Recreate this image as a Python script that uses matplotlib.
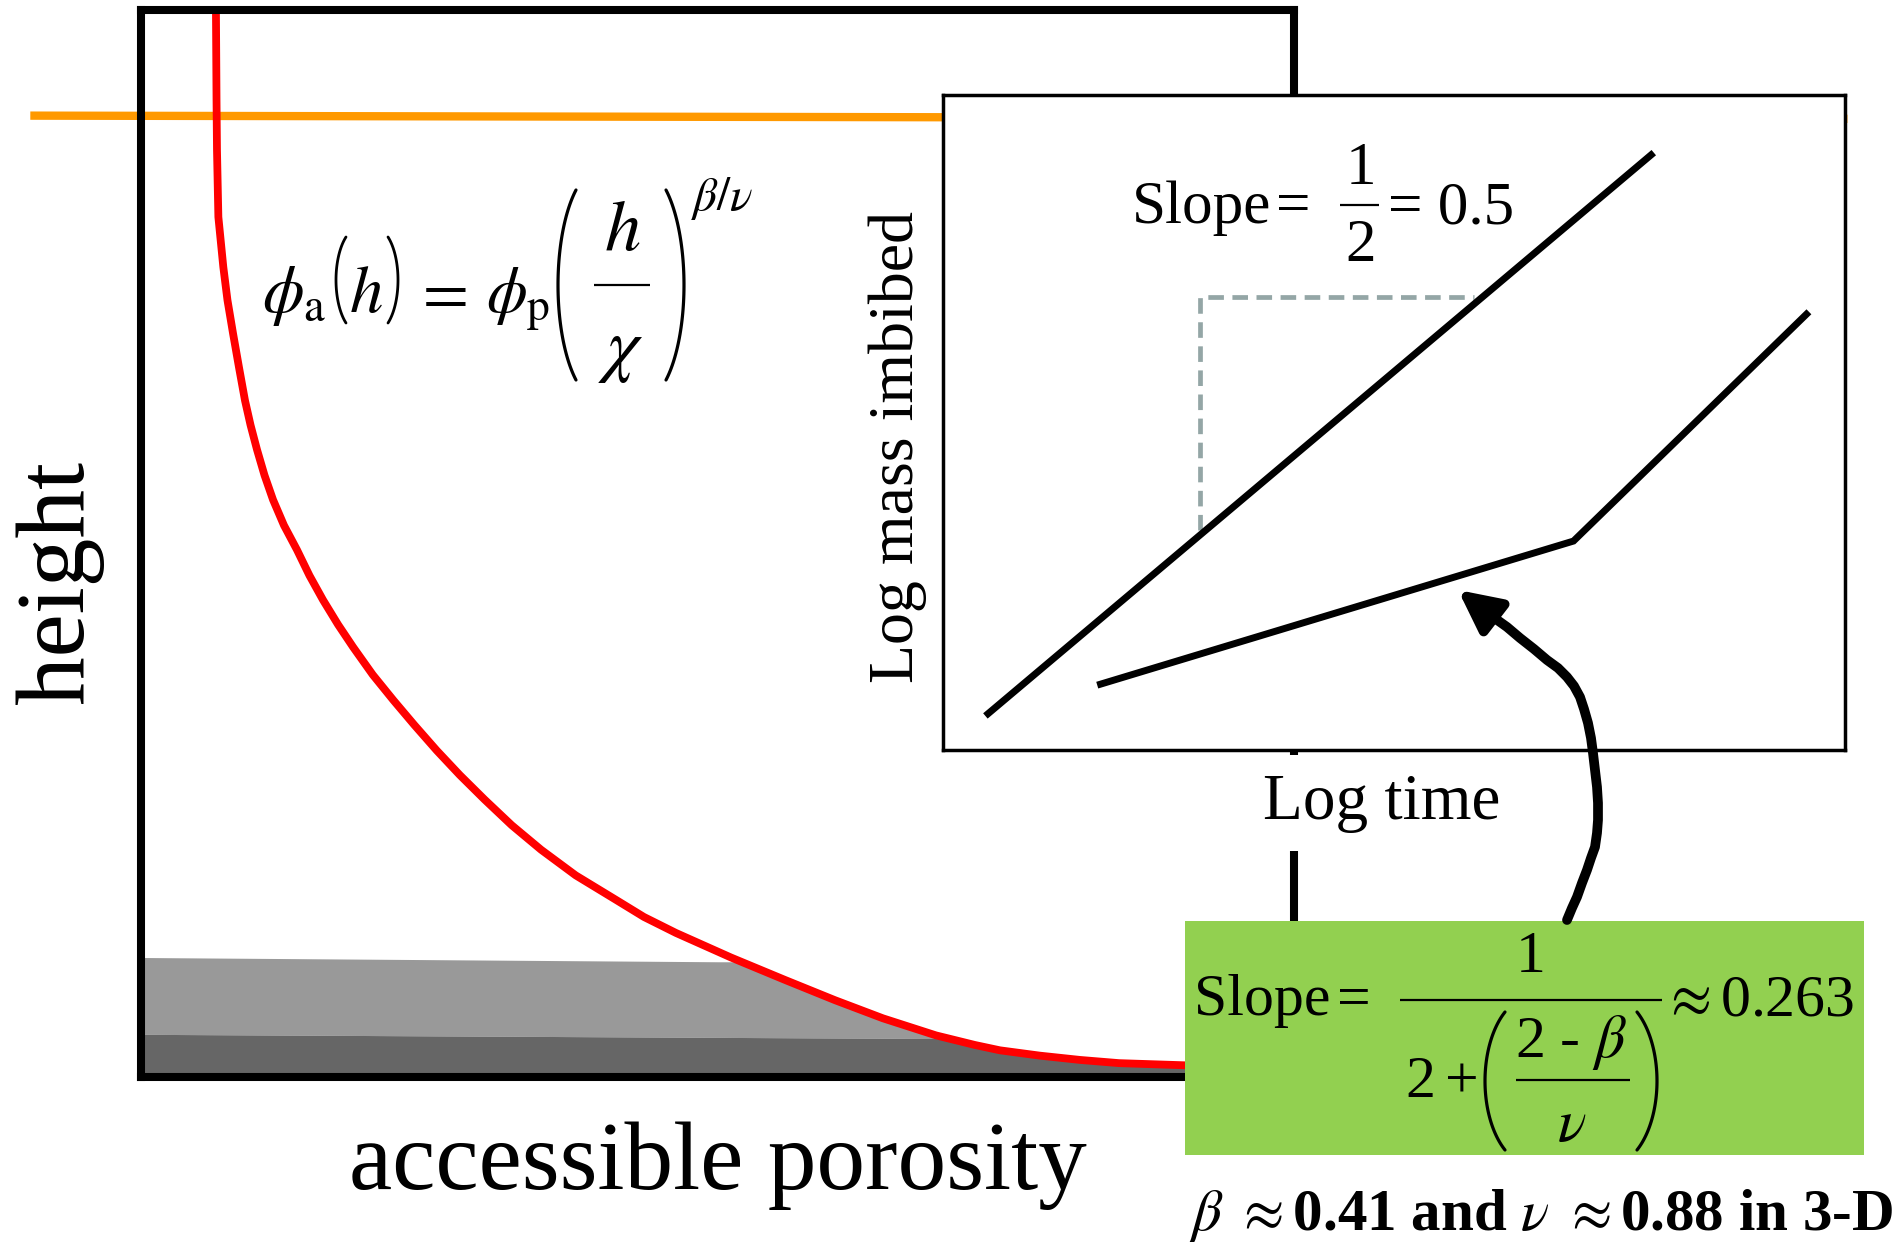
import numpy as np
import matplotlib
matplotlib.use("Agg")
import matplotlib.pyplot as plt
from matplotlib.patches import Rectangle, FancyArrowPatch
from matplotlib.path import Path

plt.rcParams['font.family'] = ['Liberation Serif', 'DejaVu Serif']
plt.rcParams['mathtext.fontset'] = 'stix'

# accessible porosity (fraction of box width) against height (fraction of box height)
porosity = [0.0650, 0.0655, 0.0659, 0.0671, 0.0714, 0.0750, 0.0798, 0.0850, 0.0902,
            0.0950, 0.1006, 0.1071, 0.1145, 0.1240, 0.1353, 0.1461, 0.1579, 0.1709,
            0.1839, 0.2010, 0.2190, 0.2370, 0.2565, 0.2765, 0.2980, 0.3215, 0.3470,
            0.3770, 0.4120, 0.4362, 0.4640, 0.5117, 0.5585, 0.6019, 0.6435, 0.6895,
            0.7233, 0.7450, 0.7797, 0.8144, 0.8482, 0.9046, 0.9300]
height = [1.000, 0.916, 0.869, 0.806, 0.759, 0.728, 0.697, 0.665, 0.634,
          0.611, 0.588, 0.564, 0.541, 0.517, 0.494, 0.470, 0.447, 0.424,
          0.403, 0.377, 0.353, 0.330, 0.306, 0.283, 0.260, 0.236, 0.213,
          0.189, 0.166, 0.150, 0.135, 0.112, 0.091, 0.072, 0.055, 0.039,
          0.030, 0.025, 0.020, 0.016, 0.013, 0.011, 0.010]

# saturated layers at the base of the column (top edge height at left and right end)
band_light_top = [0.112, 0.108]
band_dark_top = [0.040, 0.036]

# injection height line
inlet_x = [-0.096, 1.48]
inlet_h = [0.901, 0.898]

# inset: log mass imbibed vs log time
fast_t = [0.047, 0.788]
fast_m = [0.052, 0.912]
slow_t = [0.171, 0.699, 0.960]
slow_m = [0.099, 0.319, 0.669]
tri_t = [0.285, 0.285, 0.589]
tri_m = [0.336, 0.691, 0.691]

# curved arrow from the slope box to the slow branch (layout pixels)
arrow_x = [1567, 1572, 1577, 1582, 1587, 1591, 1595, 1597, 1598, 1598, 1597, 1595, 1593,
           1591, 1588, 1584, 1580, 1574, 1567, 1558, 1547, 1534, 1520, 1507, 1493, 1458]
arrow_y = [920, 908, 897, 883, 870, 858, 847, 833, 820, 803, 787, 770, 753,
           738, 723, 709, 697, 686, 677, 668, 660, 649, 638, 627, 617, 590]

W, H = 1893, 1243
fig = plt.figure(figsize=(W / 100, H / 100), dpi=100)


def px_rect(l, t, r, b):
    return [l / W, 1 - b / H, (r - l) / W, (b - t) / H]


# main column
ax = fig.add_axes(px_rect(141, 10, 1294, 1077))
ax.set_xlim(0, 1)
ax.set_ylim(0, 1)
ax.set_xticks([])
ax.set_yticks([])
for s in ax.spines.values():
    s.set_linewidth(5.8)
    s.set_capstyle('projecting')

# grey layers fill the part of each band lying left of (below) the profile
xx = np.linspace(0, 1, 600)
h_curve = np.interp(xx, porosity, height)
top_l = np.interp(xx, [0, 0.5], band_light_top)
top_d = np.interp(xx, [0, 0.7], band_dark_top)
ax.fill_between(xx, np.minimum(top_d, h_curve), np.minimum(top_l, h_curve),
                where=h_curve > top_d, color='#999999', lw=0, zorder=1)
ax.fill_between(xx, 0, np.minimum(top_d, h_curve), color='#666666', lw=0, zorder=1)

ax.plot(inlet_x, inlet_h, color='#ff9900', lw=6, clip_on=False, zorder=1.5,
        solid_capstyle='butt')
ax.plot(porosity, height, color='#ff0000', lw=5.6, zorder=2,
        solid_joinstyle='round')

# inset
axi = fig.add_axes(px_rect(943, 95, 1845, 750))
axi.set_xlim(0, 1)
axi.set_ylim(0, 1)
axi.set_xticks([])
axi.set_yticks([])
for s in axi.spines.values():
    s.set_linewidth(2.5)
axi.plot(tri_t, tri_m, color='#94a6a6', lw=3.4, linestyle=(0, (3.3, 1.8)),
         dash_capstyle='butt')
axi.plot(fast_t, fast_m, color='black', lw=5, solid_capstyle='butt')
axi.plot(slow_t, slow_m, color='black', lw=5, solid_capstyle='butt',
         solid_joinstyle='miter')

# annotation layer in layout pixels
ov = fig.add_axes([0, 0, 1, 1])
ov.set_xlim(0, W)
ov.set_ylim(H, 0)
ov.axis('off')
ov.patch.set_visible(False)


def put(x, y, s, size, ha='center', va='baseline', **kw):
    ov.text(x, y, s, fontsize=size, ha=ha, va=va, **kw)


def bar(x0, x1, y, z=4):
    ov.plot([x0, x1], [y, y], color='black', lw=1.6, solid_capstyle='butt', zorder=z)


def paren(x_out, y0, y1, sag, left=True, lw=2.3, z=4):
    # tall bracket drawn as a slice of an ellipse
    th = np.radians(55)
    a = sag / (1 - np.cos(th))
    b = (y1 - y0) / 2 / np.sin(th)
    t = np.linspace(-th, th, 60)
    sign = 1 if left else -1
    cx = x_out + sign * a
    ov.plot(cx - sign * a * np.cos(t), (y0 + y1) / 2 + b * np.sin(t),
            color='black', lw=lw, solid_capstyle='round', zorder=z)


ov.text(60, 582, 'height', rotation=90, fontsize=70, ha='center', va='center')
put(718, 1189, 'accessible porosity', 70)

# porosity law
put(262, 312, r"$\phi_{\mathrm{a}}$", 48, ha='left')
paren(336, 237, 323, 10, left=True, lw=2)
put(366, 312, r"$h$", 48)
paren(398, 237, 323, 10, left=False, lw=2)
put(440, 312, r"$=$", 48)
put(486, 312, r"$\phi_{\mathrm{p}}$", 47, ha='left')
paren(558, 190, 380, 18, left=True)
put(622, 232, r"$h$", 52, va='center')
bar(594, 650, 285)
put(621, 352, r"$\chi$", 52, va='center')
paren(684, 190, 380, 18, left=False)
put(691, 198, r"$\beta/\nu$", 34, ha='left', va='center')

# inset labels and slope note
ov.text(898, 447, 'Log mass imbibed', rotation=90, fontsize=46, ha='center', va='center')
ov.text(1382, 803, 'Log time', fontsize=47, ha='center', va='center', zorder=3,
        bbox=dict(facecolor='white', edgecolor='none', pad=0.3 * 44))
put(1132, 223, 'Slope', 44, ha='left')
put(1293, 223, '=', 44)
put(1361, 169, '1', 44, va='center')
bar(1340, 1379, 205)
put(1361, 246, '2', 44, va='center')
put(1388, 223, '= 0.5', 44, ha='left')

# slope box
ov.add_patch(Rectangle((1185, 921), 679, 234, facecolor='#92d050',
                       edgecolor='none', zorder=3))
put(1194, 1015, 'Slope', 43, ha='left', zorder=4)
put(1354, 1015, '=', 43, zorder=4)
bar(1400, 1662, 1000)
put(1531, 958, '1', 43, va='center', zorder=4)
put(1405, 1097, '2', 43, ha='left', zorder=4)
put(1462, 1097, '+', 43, zorder=4)
paren(1485, 1012, 1150, 20, left=True)
put(1571, 1057, r"2 - $\beta$", 43, zorder=4)
bar(1516, 1630, 1080)
put(1572, 1127, r"$\nu$", 43, va='center', zorder=4)
paren(1657, 1012, 1150, 20, left=False)
put(1662, 1015, r"$\approx$0.263", 43, ha='left', zorder=4)

put(1189, 1230, r"$\beta\ \approx$0.41 and $\nu\ \approx$0.88 in 3-D", 42.5,
    ha='left', fontweight='bold')

arr = FancyArrowPatch(path=Path(list(zip(arrow_x, arrow_y))),
                      arrowstyle='-|>,head_length=1.25,head_width=0.62',
                      mutation_scale=20, color='black', lw=7, zorder=5)
arr.set_joinstyle('round')
ov.add_patch(arr)

fig.savefig('out.png', dpi=100)
